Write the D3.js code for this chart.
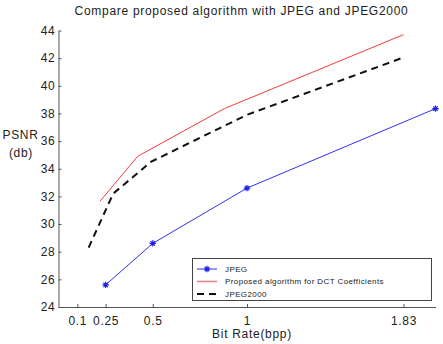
<!DOCTYPE html>
<html>
<head>
<meta charset="utf-8">
<script src="https://cdn.jsdelivr.net/npm/d3@7"></script>
<style>
  body { margin: 0; background: #fff; }
  svg { display: block; font-family: "Liberation Sans", Arial, sans-serif; }
</style>
</head>
<body>
<svg id="chart"></svg>
<script>
// data
const jpegX = [0.25, 0.5, 1, 2];
const jpegY = [25.6, 28.6, 32.6, 38.35];
const propX = [0.22, 0.42, 0.88, 1.83];
const propY = [31.65, 34.9, 38.35, 43.7];
const j2kX = [0.16, 0.29, 0.49, 1, 1.83];
const j2kY = [28.3, 32.2, 34.5, 37.9, 42.05];

const xTicks = [0.1, 0.25, 0.5, 1, 1.83];
const xTickLabels = ['0.1', '0.25', '0.5', '1', '1.83'];
const yTicks = [24, 26, 28, 30, 32, 34, 36, 38, 40, 42, 44];

const width = 443, height = 344;

const svg = d3.select('#chart')
  .attr('width', width)
  .attr('height', height);

const x = d3.scaleLinear().domain([0, 2]).range([58.5, 435.5]);
const y = d3.scaleLinear().domain([24, 44]).range([307, 30.5]);

// axes (only left and bottom, ticks pointing inward)
const yAxis = svg.append('g')
  .attr('transform', `translate(${x(0)},0)`)
  .call(d3.axisLeft(y).tickValues(yTicks).tickSize(-3).tickSizeOuter(0).tickPadding(3));

const xAxis = svg.append('g')
  .attr('transform', `translate(0,${y(24)})`)
  .call(d3.axisBottom(x).tickValues(xTicks).tickFormat((d, i) => xTickLabels[i])
    .tickSize(-3).tickSizeOuter(0).tickPadding(9));

[yAxis, xAxis].forEach(a => {
  a.select('.domain').attr('stroke', '#555');
  a.selectAll('.tick line').attr('stroke', '#555');
  a.selectAll('.tick text')
    .attr('fill', '#222')
    .style('font-size', '12px')
    .style('letter-spacing', '0.7px')
    .style('font-family', '"Liberation Sans", Arial, sans-serif');
});

// lines
const line = d3.line().x(d => x(d[0])).y(d => y(d[1]));

const jpeg = jpegX.map((v, i) => [v, jpegY[i]]);
const prop = propX.map((v, i) => [v, propY[i]]);
const j2k = j2kX.map((v, i) => [v, j2kY[i]]);

svg.append('path').datum(prop)
  .attr('d', line).attr('fill', 'none')
  .attr('stroke', '#f03c3c').attr('stroke-width', 1);

svg.append('path').datum(j2k)
  .attr('d', line).attr('fill', 'none')
  .attr('stroke', '#111').attr('stroke-width', 2)
  .attr('stroke-dasharray', '7,5');

svg.append('path').datum(jpeg)
  .attr('d', line).attr('fill', 'none')
  .attr('stroke', '#3030f0').attr('stroke-width', 1);

function drawStar(g, cx, cy) {
  const s = 3.2;
  g.append('path')
    .attr('d', `M${cx - s},${cy}H${cx + s}M${cx},${cy - s}V${cy + s}` +
      `M${cx - s * 0.7},${cy - s * 0.7}L${cx + s * 0.7},${cy + s * 0.7}` +
      `M${cx - s * 0.7},${cy + s * 0.7}L${cx + s * 0.7},${cy - s * 0.7}`)
    .attr('stroke', '#2020f0').attr('stroke-width', 1.2).attr('fill', 'none');
}
jpeg.forEach(d => drawStar(svg, x(d[0]), y(d[1])));

// title and labels
svg.append('text')
  .attr('x', 241.5).attr('y', 15)
  .attr('text-anchor', 'middle')
  .style('font-size', '12px').style('letter-spacing', '0.7px').attr('fill', '#222')
  .text('Compare proposed algorithm with JPEG and JPEG2000');

svg.append('text')
  .attr('x', 252).attr('y', 338)
  .attr('text-anchor', 'middle')
  .style('font-size', '12px').style('letter-spacing', '0.7px').attr('fill', '#222')
  .text('Bit Rate(bpp)');

const yl = svg.append('text')
  .attr('text-anchor', 'middle')
  .style('font-size', '12px').style('letter-spacing', '0.7px').attr('fill', '#222');
yl.append('tspan').attr('x', 20.5).attr('y', 139).text('PSNR');
yl.append('tspan').attr('x', 21).attr('y', 157).text('(db)');

// legend
const lg = svg.append('g');
lg.append('rect')
  .attr('x', 192.5).attr('y', 258.5).attr('width', 239).attr('height', 42)
  .attr('fill', '#fff').attr('stroke', '#444').attr('stroke-width', 1);

const legendItems = [
  { name: 'JPEG', color: '#3030f0', width: 1, dash: null, marker: true },
  { name: 'Proposed algorithm for DCT Coefficients', color: '#f08080', width: 1.5, dash: null, marker: false },
  { name: 'JPEG2000', color: '#111', width: 2, dash: '7,5', marker: false }
];
const legendY = d3.scalePoint().domain(legendItems.map(d => d.name)).range([269, 294]);

legendItems.forEach(d => {
  const ly = legendY(d.name);
  lg.append('line')
    .attr('x1', 197).attr('x2', 217).attr('y1', ly).attr('y2', ly)
    .attr('stroke', d.color).attr('stroke-width', d.width)
    .attr('stroke-dasharray', d.dash);
  if (d.marker) drawStar(lg, 207, ly);
  lg.append('text')
    .attr('x', 225).attr('y', ly).attr('dy', '0.35em')
    .style('font-size', '8px').style('letter-spacing', '0.4px').attr('fill', '#222')
    .text(d.name);
});
</script>
</body>
</html>
